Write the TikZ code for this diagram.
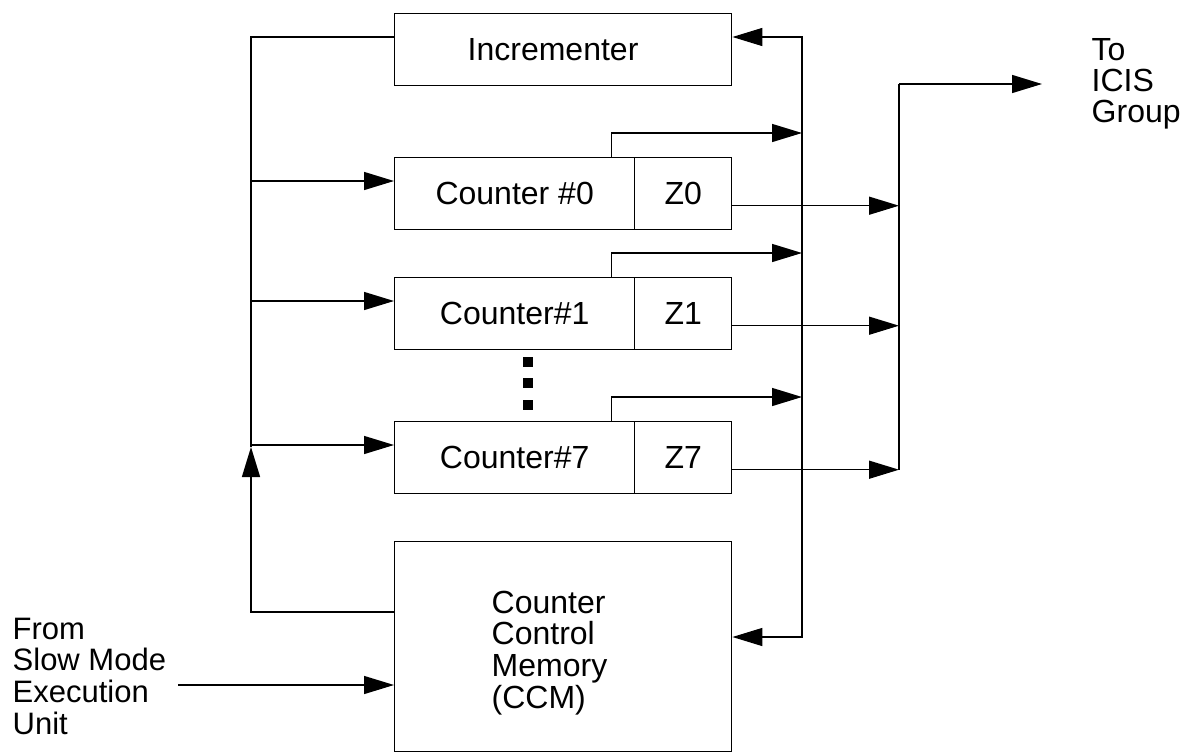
\documentclass[tikz,border=0pt]{standalone}
\usepackage{fontspec}
\setmainfont{Liberation Sans}
\usetikzlibrary{arrows.meta}
\begin{document}
\begin{tikzpicture}[x=1pt,y=-1pt,line width=1.4pt,
  box/.style={draw, rectangle, inner sep=0pt, anchor=north west, minimum height=72pt,
              font=\fontsize{32}{31.7}\selectfont},
  tip/.style={-{Triangle[length=30pt,width=18pt]}},
  lbl/.style={inner sep=0pt, align=left, anchor=north west},
  dot/.style={fill, rectangle, inner sep=0pt, minimum size=10pt}]
\useasboundingbox (0,0) rectangle (1189,753);

% boxes
\node[box, minimum width=337pt, text width=191pt, align=left] (inc) at (394,13) {Incrementer};
\node[box, minimum width=240pt] (c0) at (394,157) {Counter \#0};
\node[box, minimum width=97pt]  (z0) at (634,157) {Z0};
\node[box, minimum width=240pt] (c1) at (394,277) {Counter\#1};
\node[box, minimum width=97pt]  (z1) at (634,277) {Z1};
\node[box, minimum width=240pt] (c7) at (394,421) {Counter\#7};
\node[box, minimum width=97pt]  (z7) at (634,421) {Z7};
\node[box, minimum width=337pt, minimum height=210pt] (ccm) at (394,541) {};
\node[lbl, font=\fontsize{32}{31.7}\selectfont] (ccmtext) at (491,590)
  {Counter\\Control\\Memory\\(CCM)};

% dots
\node[dot] (d1) at (528,362) {};
\node[dot] (d2) at (528,383) {};
\node[dot] (d3) at (528,405) {};

% labels
\node[lbl, font=\fontsize{31}{31.7}\selectfont] (from) at (12,617) {From\\Slow Mode\\Execution\\Unit};
\node[lbl, font=\fontsize{32}{31}\selectfont] (to) at (1091,38) {To\\ICIS\\Group};

% coordinates
\coordinate (lbtop) at (251,37);
\coordinate (lbbot) at (251,612);
\coordinate (upt) at (251,447);
\coordinate (rbtop) at (802,37);
\coordinate (rbbot) at (802,637);
\coordinate (obtop) at (899,84);
\coordinate (icis) at (1042,84);
\coordinate (fromend) at (178,685);

% left bus
\draw (inc.west |- lbtop) -- (lbtop) -- (upt);
\draw[tip] (ccm.west |- lbbot) -- (lbbot) -- (upt);
\foreach \c in {c0,c1,c7}{
  \coordinate (\c in) at ([yshift=-24pt]\c.north west);
  \draw[tip] (lbtop |- \c in) -- (\c in);
  \coordinate (\c b) at ([xshift=-24pt]\c.north east);
  \coordinate (\c t) at ([yshift=24pt]\c b);
  \draw[tip] (\c b) -- (\c t) -- (rbtop |- \c t);
}

% right bus
\draw[tip] (rbbot) -- (rbtop) -- (inc.east |- rbtop);
\draw[tip] (rbtop |- c7t) -- (rbbot) -- (ccm.east |- rbbot);

% outputs
\foreach \z in {z0,z1,z7}{
  \coordinate (\z out) at ([yshift=-12pt]\z.east);
  \draw[tip] (\z out) -- (obtop |- \z out);
}
\draw (obtop |- z7out) -- (obtop);
\draw[tip] (obtop) -- (icis);

% input
\draw[tip] (fromend) -- (ccm.west |- fromend);
\end{tikzpicture}
\end{document}
